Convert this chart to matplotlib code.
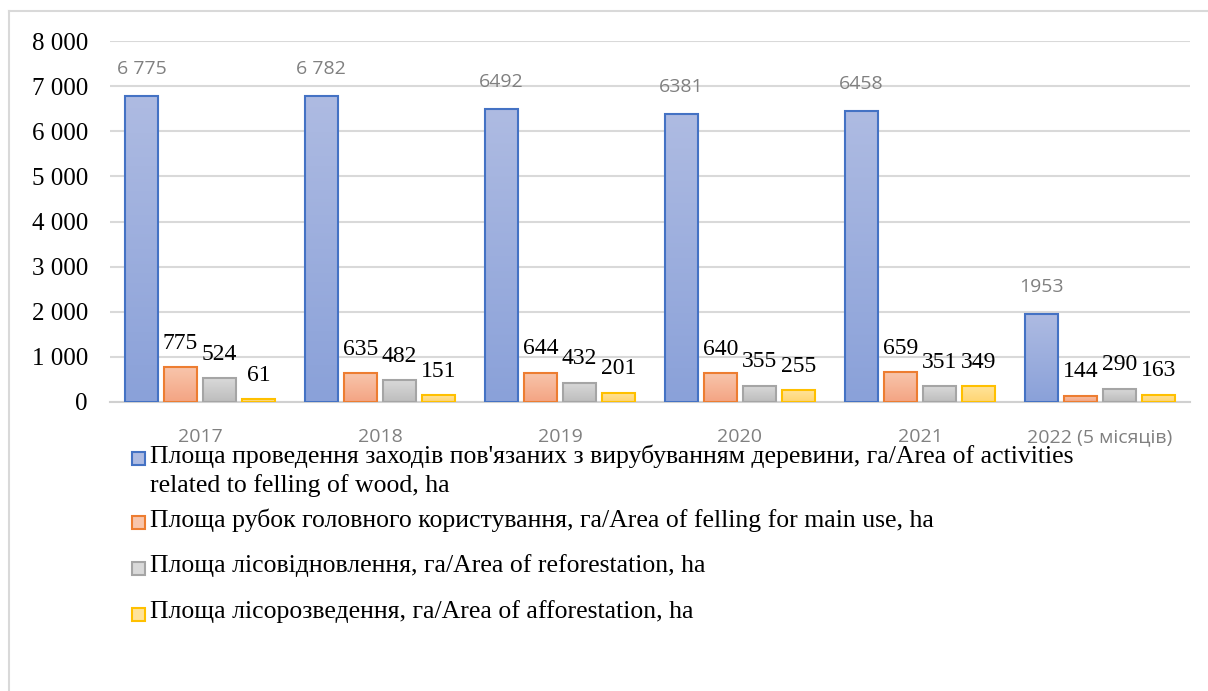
import numpy as np
import matplotlib
matplotlib.use("Agg")
import matplotlib.pyplot as plt
from matplotlib.patches import Rectangle
from matplotlib.colors import LinearSegmentedColormap
from matplotlib.lines import Line2D

# дані
years = ["2017", "2018", "2019", "2020", "2021", "2022 (5 місяців)"]
felling_activities = [6775, 6782, 6492, 6381, 6458, 1953]
main_felling = [775, 635, 644, 640, 659, 144]
reforestation = [524, 482, 432, 355, 351, 290]
afforestation = [61, 151, 201, 255, 349, 163]

value_text_blue = ["6 775", "6 782", "6492", "6381", "6458", "1953"]

labels = [
    "Площа проведення заходів пов'язаних з вирубуванням деревини, га/Area of activities\nrelated to felling of wood, ha",
    "Площа рубок головного користування, га/Area of felling for main use, ha",
    "Площа лісовідновлення, га/Area of reforestation, ha",
    "Площа лісорозведення, га/Area of afforestation, ha",
]

series = [felling_activities, main_felling, reforestation, afforestation]
edge_colors = ["#4472c4", "#ed7d31", "#a5a5a5", "#ffc000"]
grad_colors = [("#aebbe2", "#8aa1d9"), ("#f8c5ab", "#f4a483"),
               ("#d9d9d9", "#bdbdbd"), ("#ffe39a", "#ffd572")]

serif = "Liberation Serif"
sans = "Open Sans"

fig = plt.figure(figsize=(12.08, 6.91), dpi=100)
ax = fig.add_axes([110 / 1208, 289 / 691, 1080 / 1208, 361 / 691])

x = np.arange(len(years))
step = 0.217
width = 0.183

for i, vals in enumerate(series):
    pos = x + (i - 1.5) * step
    bars = ax.bar(pos, vals, width, facecolor="none", edgecolor=edge_colors[i],
                  linewidth=1.5, zorder=3, label=labels[i])
    cmap = LinearSegmentedColormap.from_list("g%d" % i, [grad_colors[i][1], grad_colors[i][0]])
    grad = np.linspace(0, 1, 100).reshape(-1, 1)
    for b in bars:
        bx, by = b.get_x(), b.get_y()
        bw, bh = b.get_width(), b.get_height()
        im = ax.imshow(grad, cmap=cmap, origin="lower", aspect="auto",
                       extent=[bx, bx + bw, by, by + bh], zorder=2)
        im.set_clip_path(b)
    for j, b in enumerate(bars):
        top = b.get_height()
        if i == 0:
            ax.annotate(value_text_blue[j], (b.get_x() + bw / 2, top), xytext=(0, 27),
                        textcoords="offset pixels", ha="center", va="center",
                        fontsize=14, color="#808080", family=sans)
        else:
            ax.annotate(str(vals[j]), (b.get_x() + bw / 2, top), xytext=(0, 24),
                        textcoords="offset pixels", ha="center", va="center",
                        fontsize=17, color="black", family=serif)

ax.set_xlim(-0.5, len(years) - 0.5)
ax.set_ylim(0, 8000)
ax.set_yticks(range(0, 8001, 1000))
ax.set_yticklabels(["0"] + ["%d 000" % k for k in range(1, 9)], family=serif, fontsize=18)
ax.set_xticks(x)
ax.set_xticklabels(years, family=sans, fontsize=14, color="#808080")
ax.tick_params(axis="both", length=0)
ax.tick_params(axis="y", pad=16)
ax.tick_params(axis="x", pad=19)
ax.grid(axis="y", color="#d9d9d9", linewidth=1.5, zorder=0)
ax.set_axisbelow(True)
for s in ["top", "right", "left"]:
    ax.spines[s].set_visible(False)
ax.spines["bottom"].set_color("#d0d0d0")
ax.spines["bottom"].set_linewidth(1.5)

# легенда
H = 691.0
legend_y = [458, 522, 568, 614]
for i, lab in enumerate(labels):
    yc = legend_y[i]
    fig.patches.append(Rectangle((132 / 1208, 1 - (yc + 7) / H), 13 / 1208, 13 / H,
                                 transform=fig.transFigure, facecolor=grad_colors[i][0],
                                 edgecolor=edge_colors[i], linewidth=1.5))
    fig.text(150 / 1208, 1 - (yc - 14) / H, lab, family=serif, fontsize=18.5,
             va="top", ha="left", linespacing=1.38)

# рамка
fig.add_artist(Line2D([9 / 1208, 1], [1 - 11 / H, 1 - 11 / H], color="#d9d9d9",
                      linewidth=1.5, transform=fig.transFigure))
fig.add_artist(Line2D([9 / 1208, 9 / 1208], [0, 1 - 11 / H], color="#d9d9d9",
                      linewidth=1.5, transform=fig.transFigure))

fig.savefig("out.png", dpi=100)
